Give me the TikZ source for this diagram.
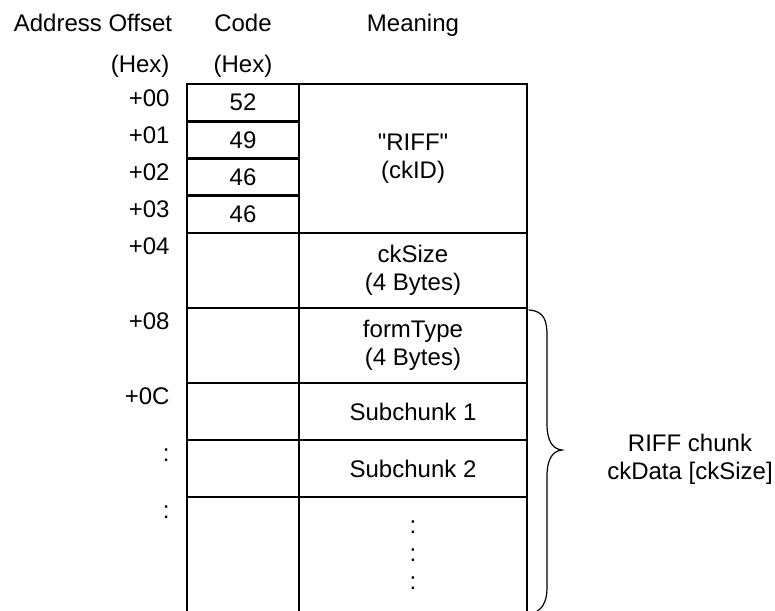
\documentclass[tikz,border=0pt]{standalone}
\usepackage{fontspec}
\setmainfont{Liberation Sans}
\tikzset{
  cell/.style={
    draw,
    rectangle,
    line width=2.9pt,
    inner sep=0pt,
    outer sep=0pt,
    anchor=north west,
    align=center
  },
  code-cell/.style={cell, minimum width=112pt},
  mean-cell/.style={cell, minimum width=228pt},
  addr/.style={anchor=base east},
  head/.style={anchor=base},
  brace-line/.style={line width=1.2pt, line cap=round}
}

\begin{document}
\begin{tikzpicture}[x=1pt,y=-1pt,font=\fontsize{24}{28}\selectfont]
  \clip (0,0) rectangle (775,610);
  % Column heads
  \node[head] (h-addr) at (93,31.7) {Address Offset};
  \node[head] (h-code) at (243,31.7) {Code};
  \node[head] (h-mean) at (413,31.7) {Meaning};
  \node[addr] (h-addr-hex) at (173,72) {(Hex)};
  \node[head] (h-code-hex) at (243,72) {(Hex)};
  % ckID bytes
  \foreach \v [count=\i from 0] in {52,49,46,46} {
    \node[code-cell, minimum height=37.25pt] (c\i) at (187,84+37.25*\i) {\v};
    \node[addr] (a\i) at (173,106+37.25*\i) {+0\i};
  }
  \node[mean-cell, minimum height=149pt] (m0) at (299,84)
    {\textquotedbl RIFF\textquotedbl\\(ckID)};
  % Remaining rows
  \foreach \y/\h/\a/\t [count=\k] in {233/75/+04/{ckSize\\(4 Bytes)},
      308/75/+08/{formType\\(4 Bytes)}, 383/57/+0C/Subchunk 1,
      440/57/:/Subchunk 2, 497/116/:/{:\\:\\:}} {
    \node[code-cell, minimum height=\h pt] (cc\k) at (187,\y) {};
    \node[mean-cell, minimum height=\h pt] (m\k) at (299,\y) {\t};
    \node[addr] (ad\k) at (173,\y+21) {\a};
  }
  % Brace over ckData
  \draw[brace-line] (529,310) .. controls (545,311) and (547,322) .. (547,336)
    -- (547,424) .. controls (547,440) and (552,449) .. (562,450)
    .. controls (552,451) and (547,460) .. (547,476)
    -- (547,588) .. controls (547,602) and (542,612) .. (529,614);
  \node[align=center] (riff) at (690,459) {RIFF chunk\\ckData [ckSize]};
\end{tikzpicture}
\end{document}
